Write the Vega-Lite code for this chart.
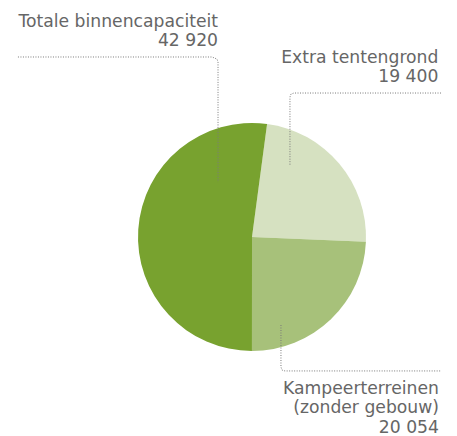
{
  "$schema": "https://vega.github.io/schema/vega-lite/v6.json",
  "autosize": "none",
  "width": 410,
  "height": 398,
  "padding": {"left": 47, "top": 38, "right": 0, "bottom": 0},
  "background": "white",
  "config": {"view": {"stroke": null}},
  "datasets": {
    "slices": [
      {"categorie": "Extra tentengrond", "waarde": 19400, "volgorde": 1},
      {"categorie": "Kampeerterreinen (zonder gebouw)", "waarde": 20054, "volgorde": 2},
      {"categorie": "Totale binnencapaciteit", "waarde": 42920, "volgorde": 3}
    ],
    "leaders": [
      {"lijn": "A", "p": 1, "x": -205.3, "y": 157.9},
      {"lijn": "A", "p": 2, "x": -35.1, "y": 157.9},
      {"lijn": "A", "p": 3, "x": -30.7, "y": 156.1},
      {"lijn": "A", "p": 4, "x": -29.8, "y": 153.5},
      {"lijn": "A", "p": 5, "x": -29.8, "y": 48.2},
      {"lijn": "B", "p": 1, "x": 165.8, "y": 126.3},
      {"lijn": "B", "p": 2, "x": 36.8, "y": 126.3},
      {"lijn": "B", "p": 3, "x": 34.2, "y": 125.4},
      {"lijn": "B", "p": 4, "x": 33.3, "y": 122.8},
      {"lijn": "B", "p": 5, "x": 33.3, "y": 63.2},
      {"lijn": "C", "p": 1, "x": 25.4, "y": -77.2},
      {"lijn": "C", "p": 2, "x": 25.4, "y": -114.0},
      {"lijn": "C", "p": 3, "x": 26.3, "y": -116.7},
      {"lijn": "C", "p": 4, "x": 28.9, "y": -117.5},
      {"lijn": "C", "p": 5, "x": 165.8, "y": -117.5}
    ],
    "labels": [
      {"tekst": ["Totale binnencapaciteit", "42 920"], "x": -29.8, "y": 184.2},
      {"tekst": ["Extra tentengrond", "19 400"], "x": 163.5, "y": 152.6},
      {"tekst": ["Kampeerterreinen", "(zonder gebouw)", "20 054"], "x": 164.0, "y": -137.8}
    ]
  },
  "layer": [
    {
      "data": {"name": "slices"},
      "mark": {"type": "arc", "outerRadius": 114, "stroke": null},
      "encoding": {
        "theta": {"field": "waarde", "type": "quantitative", "stack": true, "scale": {"range": [0.1326, 6.4158]}},
        "order": {"field": "volgorde", "type": "quantitative"},
        "color": {
          "field": "categorie",
          "type": "nominal",
          "legend": null,
          "scale": {
            "domain": ["Extra tentengrond", "Kampeerterreinen (zonder gebouw)", "Totale binnencapaciteit"],
            "range": ["#d6e1c1", "#a7c17a", "#78a22f"]
          }
        }
      }
    },
    {
      "data": {"name": "leaders"},
      "mark": {"type": "line", "stroke": "#7a7a7a", "strokeWidth": 1, "strokeDash": [1, 1.5], "clip": false},
      "encoding": {
        "x": {"field": "x", "type": "quantitative", "scale": {"domain": [-179.82, 179.82]}, "axis": null},
        "y": {"field": "y", "type": "quantitative", "scale": {"domain": [-174.56, 174.56]}, "axis": null},
        "detail": {"field": "lijn"},
        "order": {"field": "p", "type": "quantitative"}
      }
    },
    {
      "data": {"name": "labels"},
      "mark": {"type": "text", "align": "right", "baseline": "alphabetic", "font": "DejaVu Sans", "fontSize": 17.2, "lineHeight": 19.3, "color": "#666666"},
      "encoding": {
        "x": {"field": "x", "type": "quantitative", "scale": {"domain": [-179.82, 179.82]}, "axis": null},
        "y": {"field": "y", "type": "quantitative", "scale": {"domain": [-174.56, 174.56]}, "axis": null},
        "text": {"field": "tekst"}
      }
    }
  ]
}
